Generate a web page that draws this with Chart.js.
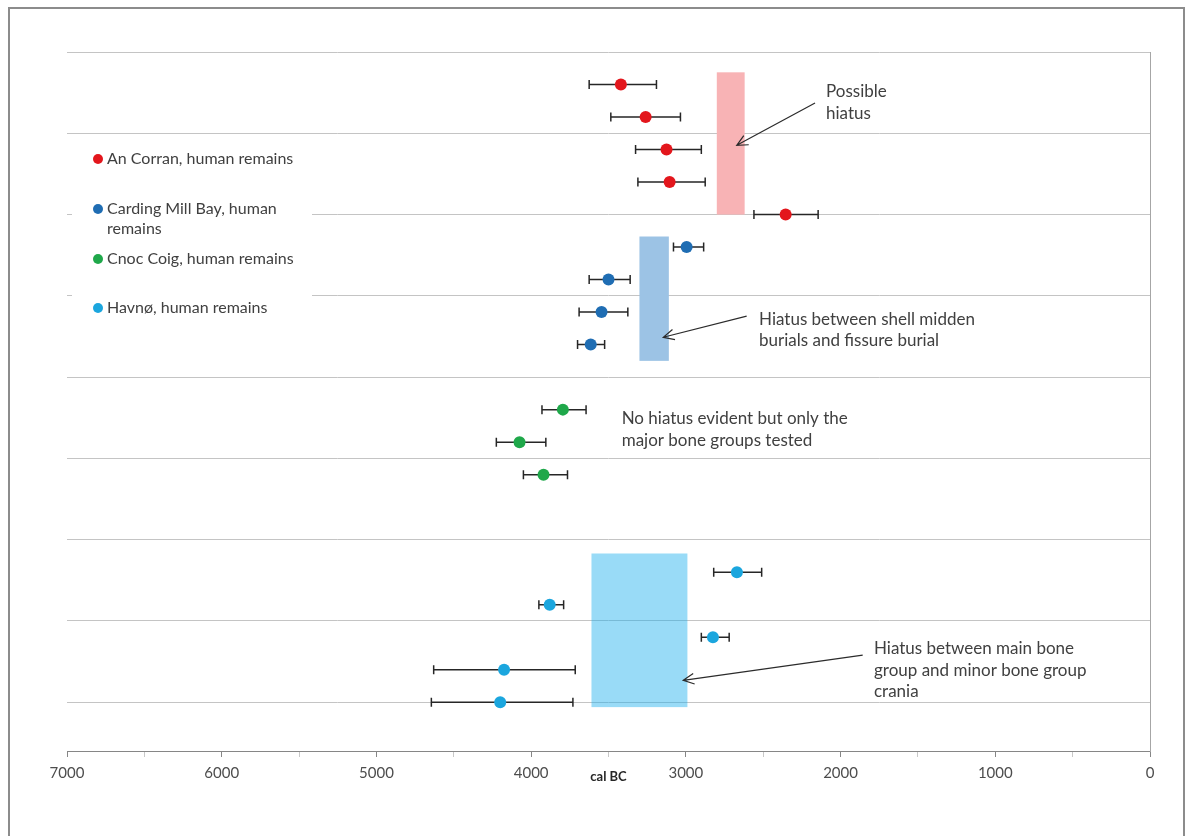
<!DOCTYPE html>
<html>
<head>
<meta charset="utf-8">
<script src="https://cdn.jsdelivr.net/npm/chart.js@4.4.1/dist/chart.umd.min.js"></script>
<style>
  html, body { margin: 0; padding: 0; background: #ffffff; }
  #wrap { width: 1190px; height: 836px; }
</style>
</head>
<body>
<div id="wrap"><canvas id="chart" width="1190" height="836"></canvas></div>
<script>
// Radiocarbon dates (cal BC): modelled date with the older and younger ends of its range.
// Each date sits on its own row; rows are counted downward from the top of the plot.
const seriesNames = [
  'An Corran, human remains',
  'Carding Mill Bay, human remains',
  'Cnoc Coig, human remains',
  'Havnø, human remains'
];

const anCorranDate  = [3420, 3260, 3125, 3105, 2355];
const anCorranOlder = [3625, 3485, 3325, 3310, 2560];
const anCorranYounger = [3190, 3035, 2900, 2875, 2145];
const anCorranRow   = [0.4, 0.8, 1.2, 1.6, 2.0];

const cardingDate   = [2995, 3500, 3545, 3615];
const cardingOlder  = [3080, 3625, 3690, 3700];
const cardingYounger = [2885, 3360, 3375, 3525];
const cardingRow    = [2.4, 2.8, 3.2, 3.6];

const cnocCoigDate  = [3795, 4075, 3920];
const cnocCoigOlder = [3930, 4225, 4050];
const cnocCoigYounger = [3645, 3905, 3765];
const cnocCoigRow   = [4.4, 4.8, 5.2];

const havnoDate     = [2670, 3880, 2825, 4175, 4200];
const havnoOlder    = [2820, 3950, 2900, 4630, 4645];
const havnoYounger  = [2510, 3790, 2720, 3715, 3730];
const havnoRow      = [6.4, 6.8, 7.2, 7.6, 8.0];

// Hiatus bands: span in cal BC and the rows they cover.
const hiatusOlder   = [2800, 3300, 3610];
const hiatusYounger = [2620, 3110, 2990];
const hiatusRowFrom = [0.25, 2.27, 6.17];
const hiatusRowTo   = [2.0, 3.8, 8.06];

// x-axis tick labels (every 1000 years, minor marks every 500)
const tickLabels = ['7000', '6000', '5000', '4000', '3000', '2000', '1000', '0'];

const seriesColors = ['#e3161c', '#1f6db3', '#1fa84a', '#1ba6de'];
const bandColors = ['#f8b3b5', '#9cc3e5', 'rgba(28,176,238,0.45)'];

function points(dates, rows) {
  return dates.map((d, i) => ({ x: d, y: rows[i] }));
}

const seriesSets = [
  { date: anCorranDate, older: anCorranOlder, younger: anCorranYounger, row: anCorranRow },
  { date: cardingDate, older: cardingOlder, younger: cardingYounger, row: cardingRow },
  { date: cnocCoigDate, older: cnocCoigOlder, younger: cnocCoigYounger, row: cnocCoigRow },
  { date: havnoDate, older: havnoOlder, younger: havnoYounger, row: havnoRow }
];

const datasets = seriesSets.map((s, i) => ({
  label: seriesNames[i],
  data: points(s.date, s.row),
  backgroundColor: seriesColors[i],
  borderWidth: 0,
  pointRadius: 6,
  pointHoverRadius: 6
}));

// Text notes with arrows, placed in axis units (x: cal BC, y: row)
const notes = [
  { lines: ['Possible', 'hiatus'], x: 2094, y: 0.49,
    arrow: { from: [2165, 0.627], to: [2671, 1.148] } },
  { lines: ['Hiatus between shell midden', 'burials and fissure burial'], x: 2527, y: 3.29,
    arrow: { from: [2607, 3.25], to: [3146, 3.51] } },
  { lines: ['No hiatus evident but only the', 'major bone groups tested'], x: 3415, y: 4.51 },
  { lines: ['Hiatus between main bone', 'group and minor bone group', 'crania'], x: 1784, y: 7.34,
    arrow: { from: [1857, 7.42], to: [3017, 7.73] } }
];

const FONT = 'Lato, "Open Sans", sans-serif';

function drawArrow(ctx, x1, y1, x2, y2) {
  const ang = Math.atan2(y2 - y1, x2 - x1);
  const head = 12, spread = 0.45;
  ctx.save();
  ctx.strokeStyle = '#2b2b2b';
  ctx.lineWidth = 1.2;
  ctx.beginPath();
  ctx.moveTo(x1, y1);
  ctx.lineTo(x2, y2);
  ctx.moveTo(x2 - head * Math.cos(ang - spread), y2 - head * Math.sin(ang - spread));
  ctx.lineTo(x2, y2);
  ctx.lineTo(x2 - head * Math.cos(ang + spread), y2 - head * Math.sin(ang + spread));
  ctx.stroke();
  ctx.restore();
}

function wrapWords(ctx, text, maxWidth) {
  const words = text.split(' ');
  const lines = [];
  let cur = '';
  words.forEach(w => {
    const test = cur ? cur + ' ' + w : w;
    if (ctx.measureText(test).width > maxWidth && cur) {
      lines.push(cur);
      cur = w;
    } else {
      cur = test;
    }
  });
  if (cur) lines.push(cur);
  return lines;
}

const decorPlugin = {
  id: 'decor',
  beforeDraw(chart) {
    const ctx = chart.ctx;
    ctx.save();
    ctx.fillStyle = '#ffffff';
    ctx.fillRect(0, 0, chart.width, chart.height);
    // frame around the whole figure
    ctx.strokeStyle = '#8c8c8c';
    ctx.lineWidth = 2;
    ctx.beginPath();
    ctx.moveTo(9, chart.height + 2);
    ctx.lineTo(9, 8);
    ctx.lineTo(1184, 8);
    ctx.lineTo(1184, chart.height + 2);
    ctx.stroke();
    ctx.restore();
  },
  beforeDatasetsDraw(chart) {
    const ctx = chart.ctx;
    const xs = chart.scales.x, ys = chart.scales.y;
    ctx.save();
    // hiatus bands
    hiatusOlder.forEach((o, i) => {
      const xa = xs.getPixelForValue(o), xb = xs.getPixelForValue(hiatusYounger[i]);
      const ya = ys.getPixelForValue(hiatusRowFrom[i]), yb = ys.getPixelForValue(hiatusRowTo[i]);
      ctx.fillStyle = bandColors[i];
      ctx.fillRect(Math.min(xa, xb), Math.min(ya, yb), Math.abs(xb - xa), Math.abs(yb - ya));
    });
    // date ranges as capped horizontal bars
    ctx.strokeStyle = '#262626';
    ctx.lineWidth = 1.5;
    seriesSets.forEach(s => {
      s.date.forEach((d, i) => {
        const xa = xs.getPixelForValue(s.older[i]);
        const xb = xs.getPixelForValue(s.younger[i]);
        const y = ys.getPixelForValue(s.row[i]);
        ctx.beginPath();
        ctx.moveTo(xa, y); ctx.lineTo(xb, y);
        ctx.moveTo(xa, y - 4.5); ctx.lineTo(xa, y + 4.5);
        ctx.moveTo(xb, y - 4.5); ctx.lineTo(xb, y + 4.5);
        ctx.stroke();
      });
    });
    ctx.restore();
  },
  afterDatasetsDraw(chart) {
    const ctx = chart.ctx;
    const xs = chart.scales.x, ys = chart.scales.y;
    const area = chart.chartArea;
    ctx.save();

    // legend box inside the plot
    ctx.fillStyle = '#ffffff';
    ctx.fillRect(area.left + 5, area.top + 87, 240, 190);
    ctx.font = '16px ' + FONT;
    ctx.textBaseline = 'middle';
    ctx.textAlign = 'left';
    const legendRows = [107, 157, 207, 256];
    chart.data.datasets.forEach((ds, i) => {
      const cy = area.top + legendRows[i];
      ctx.fillStyle = ds.backgroundColor;
      ctx.beginPath();
      ctx.arc(area.left + 31, cy, 5, 0, Math.PI * 2);
      ctx.fill();
      ctx.fillStyle = '#404040';
      const lines = wrapWords(ctx, ds.label, 200);
      lines.forEach((ln, k) => ctx.fillText(ln, area.left + 40, cy + k * 20));
    });

    // notes and arrows
    ctx.font = '17px ' + FONT;
    notes.forEach(n => {
      const x = xs.getPixelForValue(n.x);
      const y = ys.getPixelForValue(n.y);
      ctx.fillStyle = '#404040';
      n.lines.forEach((ln, k) => ctx.fillText(ln, x, y + k * 21.5));
      if (n.arrow) {
        drawArrow(ctx,
          xs.getPixelForValue(n.arrow.from[0]), ys.getPixelForValue(n.arrow.from[1]),
          xs.getPixelForValue(n.arrow.to[0]), ys.getPixelForValue(n.arrow.to[1]));
      }
    });
    ctx.restore();
  }
};

new Chart(document.getElementById('chart'), {
  type: 'scatter',
  data: { datasets },
  options: {
    responsive: false,
    animation: false,
    devicePixelRatio: 1,
    layout: { padding: { left: 67, right: 40, top: 52, bottom: 0 } },
    plugins: { legend: { display: false }, tooltip: { enabled: false } },
    scales: {
      x: {
        type: 'linear',
        min: 0,
        max: 7000,
        reverse: true,
        afterFit(scale) { scale.height = 85; },
        ticks: {
          stepSize: 500,
          autoSkip: false,
          maxRotation: 0,
          padding: 7,
          color: '#4d4d4d',
          font: { family: FONT, size: 15 },
          callback: v => (v % 1000 === 0 ? tickLabels[(7000 - v) / 1000] : '')
        },
        grid: {
          drawOnChartArea: false,
          tickLength: 6,
          tickColor: c => (c.tick && c.tick.value % 1000 === 0 ? '#868686' : '#c8c8c8')
        },
        border: { color: '#868686', width: 1 },
        title: {
          display: true,
          text: 'cal BC',
          color: '#262626',
          font: { family: FONT, size: 13, weight: 'bold' },
          padding: { top: 0, bottom: 51 }
        }
      },
      y: {
        type: 'linear',
        position: 'right',
        min: 0,
        max: 8.6,
        reverse: true,
        afterFit(scale) { scale.width = 0; },
        ticks: { display: false, stepSize: 1 },
        grid: { color: '#c4c4c4', drawTicks: false, lineWidth: 1 },
        border: { color: '#a6a6a6', width: 1 }
      }
    }
  },
  plugins: [decorPlugin]
});
</script>
</body>
</html>
